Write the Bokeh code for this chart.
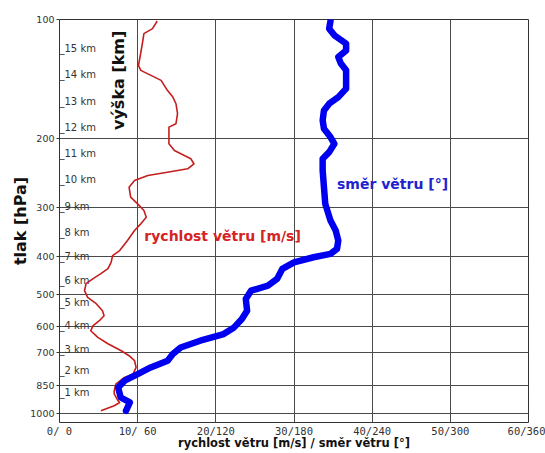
import math
from bokeh.plotting import figure
from bokeh.models import Range1d, FixedTicker, Label, ColumnDataSource, NumeralTickFormatter
from bokeh.core.properties import value
from bokeh.embed import file_html
from bokeh.resources import INLINE

# ---- data ----
# wind speed profile [m/s] vs pressure [hPa]
speed_pressure = [100.9, 105.5, 108.6, 115.1, 124.5, 130.7, 134.6, 138.6, 142.7, 151.3,
                  157.4, 163.6, 173.4, 183.9, 187.6, 195.0, 206.8, 215.0, 225.7, 232.4,
                  239.3, 244.1, 248.9, 256.3, 266.5, 282.5, 293.7, 305.4, 317.6, 330.1,
                  343.3, 364.0, 385.9, 397.3, 413.3, 428.8, 441.6, 454.7, 468.2, 487.8,
                  507.3, 526.3, 548.3, 564.6, 581.4, 598.6, 616.4, 641.1, 665.2, 692.9,
                  713.4, 734.5, 764.0, 794.1, 810.0, 842.0, 875.6, 891.1, 928.4, 937.6,
                  955.9, 984.2]
wind_speed = [12.5, 11.9, 10.8, 10.6, 10.3, 10.1, 10.4, 11.7, 13.0, 13.8,
              14.5, 14.9, 15.1, 14.9, 14.0, 14.0, 14.0, 14.7, 16.8, 17.2,
              16.4, 13.8, 11.3, 9.6, 8.9, 9.1, 10.0, 10.8, 11.1, 10.4,
              9.6, 8.7, 7.7, 6.8, 6.6, 6.2, 5.3, 4.3, 3.4, 3.2,
              3.6, 4.7, 5.5, 5.7, 5.1, 4.3, 4.0, 4.9, 6.2, 7.9,
              8.9, 9.6, 9.8, 9.4, 8.3, 7.2, 7.0, 7.0, 7.5, 7.7,
              7.0, 5.3]

# wind direction profile [deg] vs pressure [hPa]
dir_pressure = [100.9, 105.5, 109.7, 115.1, 119.8, 124.5, 129.4, 134.6, 142.7, 149.8,
                157.4, 163.6, 170.1, 180.3, 189.4, 198.8, 206.8, 217.1, 225.7, 241.7,
                266.5, 293.7, 323.9, 343.3, 364.0, 382.1, 393.4, 401.3, 413.3, 429.5,
                455.5, 473.6, 487.8, 512.1, 548.3, 575.6, 604.6, 628.4, 653.6, 679.8,
                706.4, 734.5, 764.0, 794.1, 825.5, 858.8, 910.7, 937.6, 984.2]
wind_dir = [208, 207, 211, 220, 220, 214, 216, 220, 220, 220,
            214, 207, 203, 202, 203, 208, 211, 207, 202, 202,
            203, 204, 208, 212, 214, 213, 208, 195, 180, 171,
            167, 160, 147, 143, 144, 140, 134, 126, 108, 93,
            87, 83, 70, 60, 50, 45, 47, 54, 51]

# axis ticks
pressure_ticks = [100, 200, 300, 400, 500, 600, 700, 850, 1000]
speed_ticks = [0, 10, 20, 30, 40, 50, 60]
speed_tick_labels = ["0/ 0", "10/ 60", "20/120", "30/180", "40/240", "50/300", "60/360"]

# height labels (km) and their pressure levels [hPa]
height_km = [15, 14, 13, 12, 11, 10, 9, 8, 7, 6, 5, 4, 3, 2, 1]
height_pressure = [119, 139, 162, 189, 220, 256, 300, 349, 401, 463, 527, 602, 690, 783, 890]

DIR_PER_SPEED = 6.0  # 60 m/s <-> 360 deg

p = figure(width=545, height=453, output_backend="svg", toolbar_location=None,
           y_axis_type="log",
           x_range=Range1d(0, 60), y_range=Range1d(1054, 100),
           min_border_left=59, min_border_right=17, min_border_top=19, min_border_bottom=31,
           background_fill_color="white", border_fill_color="white")

p.outline_line_color = "#333333"
p.outline_line_width = 1

# grid
p.xgrid.ticker = FixedTicker(ticks=speed_ticks)
p.ygrid.ticker = FixedTicker(ticks=pressure_ticks)
for g in (p.xgrid[0], p.ygrid[0]):
    g.grid_line_color = "#4a4a4a"
    g.grid_line_width = 1
    g.grid_line_alpha = 1.0

# x axis
xa = p.xaxis[0]
xa.ticker = FixedTicker(ticks=speed_ticks)
xa.major_label_overrides = {t: l for t, l in zip(speed_ticks, speed_tick_labels)}
xa.major_label_text_font = "DejaVu Sans Mono"
xa.major_label_text_font_size = "10.5px"
xa.major_label_text_color = "#333333"
xa.major_label_standoff = 2
xa.major_tick_out = 0
xa.major_tick_in = 0
xa.minor_tick_line_color = None
xa.axis_line_color = None
xa.axis_label = "rychlost větru [m/s] / směr větru [°]"
xa.axis_label_text_font = "DejaVu Sans"
xa.axis_label_text_font_style = "bold"
xa.axis_label_text_font_size = "11.5px"
xa.axis_label_text_color = "#111111"
xa.axis_label_standoff = -4

# y axis
ya = p.yaxis[0]
ya.ticker = FixedTicker(ticks=pressure_ticks)
ya.formatter = NumeralTickFormatter(format="0")
ya.major_label_text_font = "DejaVu Sans"
ya.major_label_text_font_size = "9.5px"
ya.major_label_text_color = "#333333"
ya.major_label_standoff = 2
ya.major_tick_out = 3
ya.major_tick_in = 0
ya.major_tick_line_color = "#333333"
ya.minor_tick_line_color = None
ya.axis_line_color = None
ya.axis_label = "tlak [hPa]"
ya.axis_label_text_font = "DejaVu Sans"
ya.axis_label_text_font_style = "bold"
ya.axis_label_text_font_size = "16px"
ya.axis_label_text_color = "#111111"
ya.axis_label_standoff = -3

# height labels
hsrc = ColumnDataSource(dict(x=[0] * len(height_km), y=height_pressure,
                             t=["_%d km" % k for k in height_km]))
p.text(x="x", y="y", text="t", source=hsrc, x_offset=0, y_offset=-1,
       text_font=value("DejaVu Sans"), text_font_size="10px", text_color="#333333",
       text_align="left", text_baseline="alphabetic")

# curves
p.line(wind_speed, speed_pressure, line_color="#c41e1e", line_width=1.6,
       line_join="round")
p.line([d / DIR_PER_SPEED for d in wind_dir], dir_pressure, line_color="#0000f0",
       line_width=6.5, line_join="round", line_cap="round")

# annotations
p.add_layout(Label(x=7.6, y=142.7, text="výška [km]", angle=math.pi / 2,
                   text_align="center", text_baseline="middle",
                   text_font="DejaVu Sans", text_font_style="bold",
                   text_font_size="16px", text_color="#111111"))
p.add_layout(Label(x=10.85, y=353.8, text="rychlost větru [m/s]",
                   text_align="left", text_baseline="middle",
                   text_font="DejaVu Sans", text_font_style="bold",
                   text_font_size="14px", text_color="#d42424"))
p.add_layout(Label(x=35.5, y=260.8, text="směr větru [°]",
                   text_align="left", text_baseline="middle",
                   text_font="DejaVu Sans", text_font_style="bold",
                   text_font_size="14px", text_color="#2222cc"))

open("out.html", "w").write(file_html(p, INLINE))
